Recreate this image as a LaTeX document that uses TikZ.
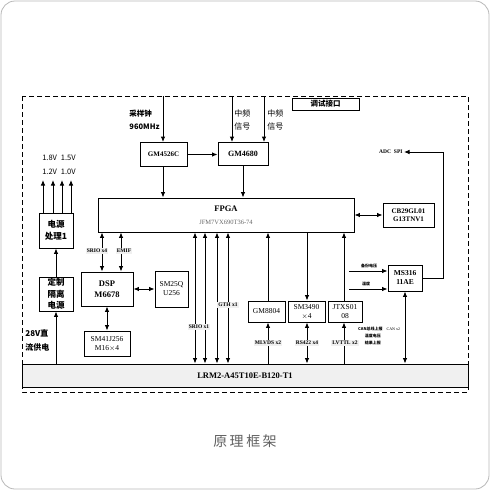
\documentclass[tikz,border=0pt]{standalone}
\usepackage{fontspec}
\setmainfont{Liberation Serif}
\newfontfamily\cjk{Noto Sans CJK SC}
\usetikzlibrary{arrows.meta}
\begin{document}
\begin{tikzpicture}[x=1pt,y=-1pt,line width=0.9pt,
  >={Latex[length=5.5pt,width=4.5pt]},
  blk/.style={draw,inner sep=0pt,align=center,font=\fontsize{7}{8.5}\selectfont\bfseries},
  blkr/.style={draw,inner sep=0pt,align=center,font=\fontsize{7.5}{9}\selectfont},
  cbox/.style={draw,inner sep=0pt,align=center,font=\fontsize{8}{10}\selectfont\cjk\bfseries},
  tag/.style={fill=gray!12,inner sep=1.2pt,font=\fontsize{5.5}{6}\selectfont\bfseries},
  tiny/.style={inner sep=0.5pt,font=\fontsize{4}{5}\selectfont\cjk\bfseries,align=left},
  clab/.style={inner sep=0pt,align=left,font=\fontsize{8}{13.5}\selectfont\cjk}]
\useasboundingbox (0,0) rectangle (490,490);
\fill[white] (0,0) rectangle (490,490);
\draw[gray!55,line width=0.8pt,rounded corners=14pt] (1,1) rectangle (489,489);
% dashed enclosure
\draw[dash pattern=on 5pt off 3pt] (22,96) rectangle (468,392);
% boxes
\node[cbox,minimum width=67pt,minimum height=12pt,font=\fontsize{7.5}{9}\selectfont\cjk\bfseries] (dbg) at (325.5,104) {调试接口};
\node[blk,minimum width=47pt,minimum height=24pt] (gm4526) at (163.5,154.5) {GM4526C};
\node[blk,minimum width=50pt,minimum height=23pt,font=\fontsize{8}{9}\selectfont\bfseries] (gm4680) at (243,154) {GM4680};
\node[draw,minimum width=256pt,minimum height=34pt,inner sep=0pt,align=center] (fpga) at (226,215)
  {{\fontsize{8.5}{9}\selectfont\bfseries FPGA}\\[1pt]{\fontsize{6.5}{8}\selectfont\color{gray!80!black}JFM7VX690T36-74}};
\node[blk,minimum width=51pt,minimum height=24pt] (cb29) at (408.5,215) {CB29GL01\\G13TNV1};
\node[blk,minimum width=34pt,minimum height=26pt,font=\fontsize{7.5}{9}\selectfont\bfseries] (ms316) at (405,278) {MS316\\11AE};
\node[cbox,minimum width=34pt,minimum height=35pt,font=\fontsize{8.5}{11.5}\selectfont\cjk\bfseries] (pwr1) at (56,230.5) {电源\\处理1};
\node[cbox,minimum width=34pt,minimum height=34pt,font=\fontsize{8.5}{11.5}\selectfont\cjk\bfseries] (iso) at (56,294) {定制\\隔离\\电源};
\node[blk,minimum width=52pt,minimum height=34pt,font=\fontsize{8.5}{11}\selectfont\bfseries] (dsp) at (107,289) {DSP\\M6678};
\node[blkr,minimum width=33pt,minimum height=36pt] (sm25) at (171.5,289) {SM25Q\\U256};
\node[blkr,minimum width=46pt,minimum height=25pt] (sm41) at (107,343.5) {SM41J256\\M16$\times$4};
\node[blkr,minimum width=37pt,minimum height=21pt] (gm8804) at (266.5,311.5) {GM8804};
\node[blkr,minimum width=37pt,minimum height=21pt] (sm3490) at (306.5,311.5) {SM3490\\$\times$4};
\node[blkr,minimum width=34pt,minimum height=21pt] (jtxs) at (345,311.5) {JTXS01\\08};
\node[draw,fill=gray!12,minimum width=446pt,minimum height=23pt,inner sep=0pt,font=\fontsize{8.5}{9}\selectfont\bfseries] (lrm) at (245,375.5) {LRM2-A45T10E-B120-T1};
% x positions
\coordinate (xa) at (163,96);
\coordinate (xb) at (232,96);
\coordinate (xc) at (264,96);
\coordinate (xg) at (243,0);
\coordinate (xdsp1) at (102,0);
\coordinate (xdsp2) at (121,0);
\coordinate (xs1) at (195,0);
\coordinate (xs2) at (205,0);
\coordinate (xs3) at (217,0);
\coordinate (xs4) at (228,0);
\coordinate (x88) at (268,0);
\coordinate (x34) at (307,0);
\coordinate (xjt) at (344,0);
\coordinate (xms) at (405,0);
\coordinate (xp) at (56,0);
\coordinate (adcr) at (443,152);
\coordinate (msr) at (443,278);
\coordinate (in1) at (349,271);
\coordinate (in2) at (349,289);
% top inputs
\node[clab,font=\fontsize{7.5}{13.5}\selectfont\cjk\bfseries,anchor=east] (lab1) at (160,120) {采样钟\\960MHz};
\node[clab,anchor=west] (lab2) at (234,120) {中频\\信号};
\node[clab,anchor=west] (lab3) at (267,120) {中频\\信号};
\draw[->] (xa) -- (xa |- gm4526.north);
\draw[->] (xb) -- (xb |- gm4680.north);
\draw[->] (xc) -- (xc |- gm4680.north);
\draw[->] (gm4526.east) -- (gm4680.west |- gm4526.east);
\draw[->] (xa |- gm4526.south) -- (xa |- fpga.north);
\draw[->] (xg |- gm4680.south) -- (xg |- fpga.north);
% right side
\draw[<->] (fpga.east |- cb29.west) -- (cb29.west);
\node[inner sep=1pt,font=\fontsize{5.5}{6}\selectfont\bfseries,anchor=east] (adc) at (404,152) {ADC\hspace{3pt}SPI};
\draw[->] (ms316.east |- msr) -- (msr) -- (adcr) -- (adc.east);
\draw[->] (in1) -- (ms316.west |- in1);
\draw[->] (in2) -- (ms316.west |- in2);
\node[tiny,anchor=south] (b1) at (369,269) {备份电压};
\node[tiny,anchor=south] (b2) at (366,287) {温度};
\draw[<->] (xms |- ms316.south) -- (xms |- lrm.north);
\node[tiny,anchor=east] (c1) at (401,329) {CAN总线上报\quad{\fontfamily{}\mdseries\rmfamily CAN x2}};
\node[tiny,anchor=west] (c2) at (364,336) {温度电压};
\node[tiny,anchor=west] (c3) at (364,343) {结果上报};
% power
\foreach \xx in {43,53,62,71}{\draw[->] (\xx,213) -- (\xx,180);}
\node[clab,anchor=center,font=\fontsize{7.5}{14}\selectfont\cjk] (volt) at (59,165) {1.8V\hspace{4pt}1.5V\\1.2V\hspace{4pt}1.0V};
\draw[->] (xp |- iso.north) -- (xp |- pwr1.south);
\draw[->] (xp |- lrm.north) -- (xp |- iso.south);
\node[clab,font=\fontsize{8}{14}\selectfont\cjk\bfseries,anchor=west] (v28) at (25,340) {28V直\\流供电};
% DSP
\draw[<->] (xdsp1 |- fpga.south) -- (xdsp1 |- dsp.north);
\draw[<->] (xdsp2 |- fpga.south) -- (xdsp2 |- dsp.north);
\node[tag] (t1) at (97,251) {SRIO x4};
\node[tag] (t2) at (124,251) {EMIF};
\draw[<->] (dsp.east) -- (sm25.west |- dsp.east);
\draw[<->] (dsp.south) -- (sm41.north);
% buses to LRM
\foreach \c in {xs1,xs2,xs3,xs4}{\draw[<->] (\c |- fpga.south) -- (\c |- lrm.north);}
\node[tag] (t3) at (199,327) {SRIO x1};
\node[tag] (t4) at (228,305) {GTH x1};
\draw[->] (x88 |- gm8804.north) -- (x88 |- fpga.south);
\draw[->] (x88 |- lrm.north) -- (x88 |- gm8804.south);
\draw[->] (x34 |- fpga.south) -- (x34 |- sm3490.north);
\draw[<->] (x34 |- sm3490.south) -- (x34 |- lrm.north);
\draw[->] (xjt |- jtxs.north) -- (xjt |- fpga.south);
\draw[->] (xjt |- lrm.north) -- (xjt |- jtxs.south);
\node[tag] (t5) at (268,343) {MLVDS x2};
\node[tag] (t6) at (307,343) {RS422 x4};
\node[tag] (t7) at (345,343) {LVTTL x2};
% caption
\node[font=\fontsize{14}{16}\selectfont\cjk,text=gray!75!black] (cap) at (245,441) {原\hspace{2.5pt}理\hspace{2.5pt}框\hspace{2.5pt}架};
\end{tikzpicture}
\end{document}
